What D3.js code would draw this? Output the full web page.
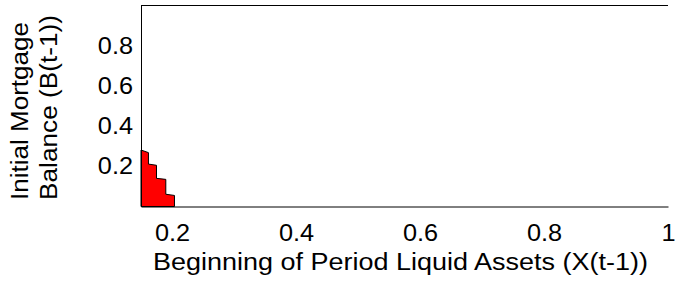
<!DOCTYPE html>
<html>
<head>
<meta charset="utf-8">
<script src="https://cdn.jsdelivr.net/npm/d3@7"></script>
<style>
  body { margin: 0; background: #fff; }
  text { font-family: "Liberation Sans", Arial, sans-serif; fill: #000; }
</style>
</head>
<body>
<div id="chart"></div>
<script>
// boundary of the red region (liquid assets, mortgage balance)
const regionX = [0.15, 0.162, 0.162, 0.175, 0.175, 0.19, 0.19, 0.204, 0.204, 0.15];
const regionY = [0.281, 0.268, 0.211, 0.205, 0.14, 0.135, 0.061, 0.055, 0, 0];
const xTicks = [0.2, 0.4, 0.6, 0.8, 1];
const yTicks = [0.2, 0.4, 0.6, 0.8];
const xTitle = 'Beginning of Period Liquid Assets (X(t-1))';
const yTitle = ['Initial Mortgage', 'Balance (B(t-1))'];

const width = 687;
const height = 283;
const margin = { top: 5.5, right: 19, bottom: 76.5, left: 141 };
const fs = 23;

const svg = d3.select('#chart')
  .append('svg')
  .attr('width', width)
  .attr('height', height);

const x = d3.scaleLinear()
  .domain([0.15, 1])
  .range([margin.left, width - margin.right]);

const y = d3.scaleLinear()
  .domain([0, 1])
  .range([height - margin.bottom, margin.top]);

const pts = regionX.map((v, i) => [v, regionY[i]]);

svg.append('path')
  .datum(pts)
  .attr('d', d3.line().x(d => x(d[0])).y(d => y(d[1])).curve(d3.curveLinearClosed))
  .attr('fill', '#ff0000')
  .attr('stroke', '#000')
  .attr('stroke-width', 1);

function xAxis(g) {
  g.attr('transform', `translate(0,${y(0)})`)
    .call(d3.axisBottom(x).tickValues(xTicks).tickSize(0).tickPadding(18).tickFormat(d3.format('~g')))
    .call(g => g.select('.domain').attr('stroke-width', 1));
}

function yAxis(g) {
  g.attr('transform', `translate(${x(0.15)},0)`)
    .call(d3.axisLeft(y).tickValues(yTicks).tickSize(0).tickPadding(8).tickFormat(d3.format('~g')))
    .call(g => g.select('.domain').attr('stroke-width', 1));
}

svg.append('g').call(xAxis);
svg.append('g').call(yAxis);
svg.selectAll('.tick text')
  .attr('font-size', fs)
  .attr('font-family', null)
  .each(function () {
    // reference glyphs run a little wider than Liberation Sans
    d3.select(this).attr('textLength', this.getComputedTextLength() * 1.1).attr('lengthAdjust', 'spacingAndGlyphs');
  });

// top border
svg.append('line')
  .attr('x1', x(0.15)).attr('x2', x(1))
  .attr('y1', y(1)).attr('y2', y(1))
  .attr('stroke', '#000');

svg.append('text')
  .attr('x', 400.5)
  .attr('y', 270)
  .attr('text-anchor', 'middle')
  .attr('font-size', fs)
  .attr('textLength', 495)
  .attr('lengthAdjust', 'spacingAndGlyphs')
  .text(xTitle);

const ylab = svg.append('g').attr('transform', 'rotate(-90)');
ylab.selectAll('text')
  .data(yTitle)
  .join('text')
  .attr('x', -200)
  .attr('y', (d, i) => 28 + i * 29)
  .attr('font-size', fs)
  .attr('textLength', (d, i) => [178, 185][i])
  .attr('lengthAdjust', 'spacingAndGlyphs')
  .text(d => d);
</script>
</body>
</html>
